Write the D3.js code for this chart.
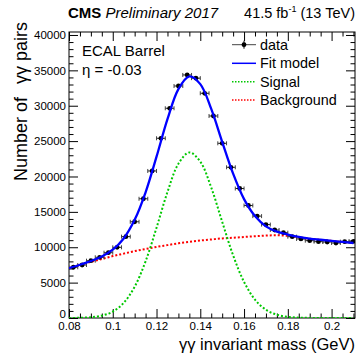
<!DOCTYPE html>
<html>
<head>
<meta charset="utf-8">
<script src="https://cdn.jsdelivr.net/npm/d3@7"></script>
<style>
  html, body { margin: 0; padding: 0; background: #fff; }
  svg { display: block; font-family: "Liberation Sans", Arial, Helvetica, sans-serif; }
</style>
</head>
<body>
<svg id="chart" width="357" height="358"></svg>
<script>
// ---------------- data ----------------
// data histogram: bin centers (GeV) and counts
const binCenters = [0.082,0.086,0.090,0.094,0.098,0.102,0.106,0.110,0.114,0.118,0.122,0.126,0.130,0.134,0.138,0.142,0.146,0.150,0.154,0.158,0.162,0.166,0.170,0.174,0.178,0.182,0.186,0.190,0.194,0.198,0.202,0.206,0.210];
const dataCounts = [7170,7490,8100,8580,9230,9990,11500,13600,16850,20780,25400,29640,32790,34350,33900,31760,28550,24690,21300,18300,15900,14400,13200,12440,12060,11490,11170,10930,10790,10740,10600,10790,10840];
const binHalfWidth = 0.002;

// curve samples (x in GeV)
const curveX = [0.080,0.085,0.090,0.095,0.100,0.105,0.110,0.115,0.120,0.125,0.130,0.135,0.140,0.145,0.150,0.155,0.160,0.165,0.170,0.175,0.180,0.185,0.190,0.195,0.200,0.205,0.210];
const fitModel = [7050,7530,8060,8690,9650,11240,13870,17770,22800,28100,32350,34150,33050,29550,24900,20400,16800,14400,12950,12200,11800,11480,11230,11060,10900,10750,10600];
const signal = [8,31,110,336,903,2137,4418,8017,12758,17807,21797,23400,22101,18442,13595,8852,5094,2588,1161,461,161,50,14,3,1,0,0];
const background = [7050,7500,7950,8350,8750,9100,9450,9750,10050,10300,10550,10750,10950,11100,11250,11350,11450,11550,11650,11700,11600,11400,11200,11050,10900,10750,10600];

// axis ticks
const xMajorTicks = [0.08,0.10,0.12,0.14,0.16,0.18,0.20];
const xTickLabels = ["0.08","0.1","0.12","0.14","0.16","0.18","0.2"];
const yMajorTicks = [0,5000,10000,15000,20000,25000,30000,35000,40000];
const yTickLabels = ["0","5000","10000","15000","20000","25000","30000","35000","40000"];

// legend
const legendLabels = ["data","Fit model","Signal","Background"];

// ---------------- drawing ----------------
const svg = d3.select("#chart");
const L = 69, R = 355, T = 32, B = 318;

const x = d3.scaleLinear().domain([0.08, 0.2107]).range([L, R]);
const y = d3.scaleLinear().domain([0, 40420]).range([B, T]);

const xMinor = d3.range(0.08, 0.2107, 0.005).map(v => +v.toFixed(4)).filter(v => !xMajorTicks.some(m => Math.abs(m - v) < 1e-6));
const yMinor = d3.range(0, 40420, 1000).filter(v => v % 5000 !== 0);

svg.append("defs").append("clipPath").attr("id", "clip")
  .append("rect").attr("x", L).attr("y", T).attr("width", R - L).attr("height", B - T);

const axisColor = "#000";
function styleAxis(g) {
  g.select(".domain").remove();
  g.selectAll(".tick line").attr("stroke", axisColor).attr("stroke-width", 1);
}

// bottom
svg.append("g").attr("transform", `translate(0,${B})`)
  .call(d3.axisBottom(x).tickValues(xMajorTicks).tickSize(-9).tickPadding(4)
        .tickFormat((d, i) => xTickLabels[i]))
  .call(styleAxis)
  .call(g => g.selectAll("text").attr("font-size", "11.5px").attr("fill", "#000")
             .attr("font-family", "Liberation Sans, Arial, sans-serif"));
svg.append("g").attr("transform", `translate(0,${B})`)
  .call(d3.axisBottom(x).tickValues(xMinor).tickSize(-4.5).tickFormat(""))
  .call(styleAxis);
// top
svg.append("g").attr("transform", `translate(0,${T})`)
  .call(d3.axisTop(x).tickValues(xMajorTicks).tickSize(-9).tickFormat(""))
  .call(styleAxis);
svg.append("g").attr("transform", `translate(0,${T})`)
  .call(d3.axisTop(x).tickValues(xMinor).tickSize(-4.5).tickFormat(""))
  .call(styleAxis);
// left
svg.append("g").attr("transform", `translate(${L},0)`)
  .call(d3.axisLeft(y).tickValues(yMajorTicks).tickSize(-9).tickPadding(3)
        .tickFormat((d, i) => yTickLabels[i]))
  .call(styleAxis)
  .call(g => g.selectAll("text").attr("font-size", "11.5px").attr("fill", "#000")
             .attr("font-family", "Liberation Sans, Arial, sans-serif")
             .filter(d => d === 0).attr("dy", "-0.05em"));
svg.append("g").attr("transform", `translate(${L},0)`)
  .call(d3.axisLeft(y).tickValues(yMinor).tickSize(-4.5).tickFormat(""))
  .call(styleAxis);
// right
svg.append("g").attr("transform", `translate(${R},0)`)
  .call(d3.axisRight(y).tickValues(yMajorTicks).tickSize(-9).tickFormat(""))
  .call(styleAxis);
svg.append("g").attr("transform", `translate(${R},0)`)
  .call(d3.axisRight(y).tickValues(yMinor).tickSize(-4.5).tickFormat(""))
  .call(styleAxis);

// frame
svg.append("rect").attr("x", L).attr("y", T).attr("width", R - L).attr("height", B - T)
  .attr("fill", "none").attr("stroke", "#000").attr("stroke-width", 1);

// curves
const plot = svg.append("g").attr("clip-path", "url(#clip)");
const lineGen = vals => d3.line()
  .x((d, i) => x(curveX[i])).y(d => y(d))
  .curve(d3.curveCatmullRom.alpha(0.5))(vals);

plot.append("path").attr("d", lineGen(background)).attr("fill", "none")
  .attr("stroke", "#ff0000").attr("stroke-width", 2).attr("stroke-dasharray", "2,2");
plot.append("path").attr("d", lineGen(signal)).attr("fill", "none")
  .attr("stroke", "#00c800").attr("stroke-width", 2).attr("stroke-dasharray", "2,2");

// data points
const pts = plot.append("g");
binCenters.forEach((c, i) => {
  const v = dataCounts[i];
  const cx = x(c), cy = y(v);
  const x0 = x(c - binHalfWidth), x1 = x(c + binHalfWidth);
  pts.append("line").attr("x1", x0).attr("x2", x1).attr("y1", cy).attr("y2", cy)
    .attr("stroke", "#222").attr("stroke-width", 1);
  [x0, x1].forEach(xx => pts.append("line").attr("x1", xx).attr("x2", xx)
    .attr("y1", cy - 2).attr("y2", cy + 2).attr("stroke", "#444").attr("stroke-width", 1));
  const e = Math.sqrt(v);
  pts.append("line").attr("x1", cx).attr("x2", cx).attr("y1", y(v - e)).attr("y2", y(v + e))
    .attr("stroke", "#000").attr("stroke-width", 1);
  pts.append("circle").attr("cx", cx).attr("cy", cy).attr("r", 2.4).attr("fill", "#000");
});

plot.append("path").attr("d", lineGen(fitModel)).attr("fill", "none")
  .attr("stroke", "#0000ff").attr("stroke-width", 2.3);

// header texts
const hdr = svg.append("text").attr("x", 68).attr("y", 17.5).attr("font-size", "15px").attr("fill", "#000");
hdr.append("tspan").attr("font-weight", "bold").text("CMS");
hdr.append("tspan").attr("font-style", "italic").text(" Preliminary 2017");

const lumi = svg.append("text").attr("x", 355).attr("y", 17.5).attr("text-anchor", "end")
  .attr("font-size", "14.5px").attr("fill", "#000");
lumi.append("tspan").text("41.5 fb");
lumi.append("tspan").attr("font-size", "9px").attr("dy", "-6").text("-1");
lumi.append("tspan").attr("dy", "6").text(" (13 TeV)");

// inner labels
svg.append("text").attr("x", 82).attr("y", 56).attr("font-size", "15px").text("ECAL Barrel");
svg.append("text").attr("x", 82).attr("y", 75).attr("font-size", "15px").text("η = -0.03");

// axis titles
svg.append("text").attr("x", 355).attr("y", 350).attr("text-anchor", "end")
  .attr("font-size", "16.5px").text("γγ invariant mass (GeV)");
const yTitle = svg.append("text").attr("transform", "translate(27,22) rotate(-90)")
  .attr("text-anchor", "end").attr("font-size", "18px");
yTitle.append("tspan").text("Number of");
yTitle.append("tspan").attr("dx", 13).text("γγ pairs");

// legend
const legY = [44.7, 63.3, 81.7, 100];
const lx0 = 232, lx1 = 256, lxm = 244;
const lg = svg.append("g");
lg.append("line").attr("x1", lx0).attr("x2", lx1).attr("y1", legY[0]).attr("y2", legY[0])
  .attr("stroke", "#444").attr("stroke-width", 1);
lg.append("line").attr("x1", lxm).attr("x2", lxm).attr("y1", legY[0] - 4).attr("y2", legY[0] + 4)
  .attr("stroke", "#000").attr("stroke-width", 1);
lg.append("circle").attr("cx", lxm).attr("cy", legY[0]).attr("r", 2.4).attr("fill", "#000");
lg.append("line").attr("x1", lx0).attr("x2", lx1).attr("y1", legY[1]).attr("y2", legY[1])
  .attr("stroke", "#0000ff").attr("stroke-width", 1.5);
lg.append("line").attr("x1", lx0).attr("x2", lx1).attr("y1", legY[2]).attr("y2", legY[2])
  .attr("stroke", "#00c800").attr("stroke-width", 1.5).attr("stroke-dasharray", "1.5,1.5");
lg.append("line").attr("x1", lx0).attr("x2", lx1).attr("y1", legY[3]).attr("y2", legY[3])
  .attr("stroke", "#ff0000").attr("stroke-width", 1.5).attr("stroke-dasharray", "1.5,1.5");
legendLabels.forEach((t, i) => {
  lg.append("text").attr("x", 260).attr("y", legY[i]).attr("dy", "0.36em")
    .attr("font-size", "14.4px").text(t);
});
</script>
</body>
</html>
